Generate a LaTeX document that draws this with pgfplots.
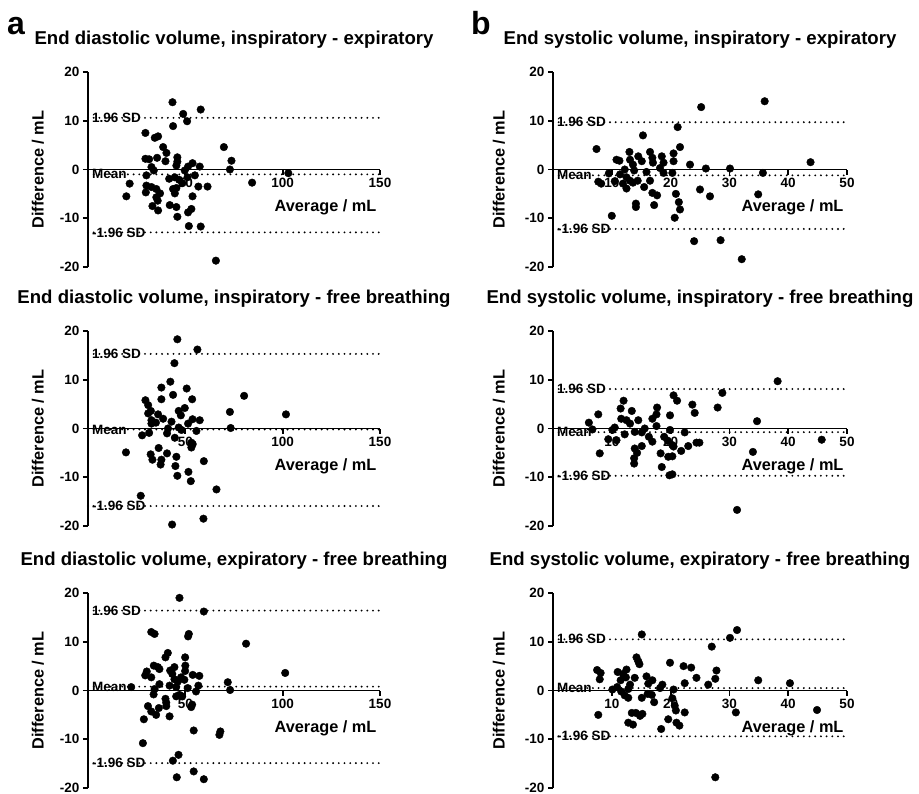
\documentclass[border=0pt]{standalone}
\usepackage{pgfplots}
\pgfplotsset{compat=1.18}
\usepackage{fontspec}
\setmainfont{Liberation Sans}
\pgfplotsset{
  ba/.style={
    scale only axis, height=195pt,
    ymin=-20, ymax=20, xmin=0,
    axis x line=middle, axis y line=left,
    axis line style={-, line width=1.8pt, black},
    ytick={-20,-10,0,10,20},
    tick align=outside,
    tick style={line width=1.8pt, black},
    major tick length=5pt,
    ticklabel style={font=\fontsize{13.5}{13.5}\selectfont\bfseries},
    /pgf/number format/assume math mode=true,
    xlabel={Average / mL}, ylabel={Difference / mL},
    x label style={at={(rel axis cs:1,0.305)}, anchor=east, font=\fontsize{16.3}{16.3}\selectfont\bfseries},
    title style={at={(rel axis cs:0.5,1)}, anchor=base, yshift=22pt, font=\fontsize{18.6}{18.6}\selectfont\bfseries},
    clip=false,
  },
  baL/.style={ba, width=292pt, xmax=150, xtick={50,100,150},
    y label style={at={([xshift=-50pt]rel axis cs:0,0.5)}, anchor=center, font=\fontsize{16.3}{16.3}\selectfont\bfseries}},
  baR/.style={ba, width=294pt, xmax=50, xtick={10,20,30,40,50},
    y label style={at={([xshift=-54pt]rel axis cs:0,0.5)}, anchor=center, font=\fontsize{16.3}{16.3}\selectfont\bfseries}},
  pts/.style={only marks, mark=*, mark size=3.8pt, black, mark options={draw=black, fill=black}},
  lim/.style={no marks, black, line width=2.1pt, line cap=round, dash pattern=on 0pt off 5.7pt},
}
\tikzset{limlab/.style={anchor=west, xshift=4pt, font=\fontsize{13.5}{13.5}\selectfont\bfseries, inner sep=0pt}}
\begin{document}
\begin{tikzpicture}
\useasboundingbox (0,0) rectangle (919pt,-794pt);
\node[anchor=base west, font=\fontsize{32}{32}\selectfont\bfseries, inner sep=0pt] at (7pt,-35pt) {a};
\node[anchor=base west, font=\fontsize{32}{32}\selectfont\bfseries, inner sep=0pt] at (471pt,-35pt) {b};

% Panel 1: EDV insp - exp
\begin{axis}[baL, at={(88pt,-267pt)}, anchor=south west, title={End diastolic volume, inspiratory - expiratory}]
\addplot[lim] coordinates {(0,10.6) (150,10.6)};
\addplot[lim] coordinates {(0,-1.0) (150,-1.0)};
\addplot[lim] coordinates {(0,-12.9) (150,-12.9)};
\node[limlab] at (axis cs:0,10.6) {1.96 SD};
\node[limlab] at (axis cs:0,-1.0) {Mean};
\node[limlab] at (axis cs:0,-12.9) {-1.96 SD};
\addplot[pts] coordinates {
(43.4,13.8) (57.9,12.3) (48.9,11.4) (50.9,9.9) (43.7,8.9) (29.5,7.5) (34.3,6.5) (36.0,6.8)
(69.8,4.6) (38.6,4.6) (40.3,3.4) (73.7,1.8) (29.5,2.2) (31.4,2.1) (35.5,2.4) (39.8,1.7)
(45.9,2.5) (45.9,1.6) (53.7,1.3) (57.4,0.6) (72.9,0.0) (32.6,0.5) (33.8,-0.2) (30.0,-1.2)
(45.4,0.8) (51.4,0.6) (49.7,-0.2) (54.9,-1.2) (41.7,-1.9) (44.6,-1.6) (46.8,-2.1) (48.5,-2.8)
(102.9,-0.75) (84.3,-2.7) (21.4,-2.9) (56.7,-3.5) (61.4,-3.5) (32.6,-3.6) (35.1,-4.0) (43.7,-4.0)
(45.4,-3.8) (29.7,-4.7) (37.0,-4.9) (44.6,-4.9) (19.7,-5.5) (53.7,-5.5) (35.1,-5.7) (35.8,-6.4)
(33.1,-7.5) (36.0,-8.4) (42.0,-7.3) (45.4,-7.7) (53.1,-8.1) (51.4,-8.8) (45.9,-9.7) (51.8,-11.6)
(57.9,-11.7) (65.7,-18.7) (51.1,-1.6) (30.0,-3.3)
};
\end{axis}

% Panel 2: ESV insp - exp
\begin{axis}[baR, at={(553pt,-267pt)}, anchor=south west, title={End systolic volume, inspiratory - expiratory}]
\addplot[lim] coordinates {(0,9.7) (50,9.7)};
\addplot[lim] coordinates {(0,-1.2) (50,-1.2)};
\addplot[lim] coordinates {(0,-12.2) (50,-12.2)};
\node[limlab] at (axis cs:0,9.7) {1.96 SD};
\node[limlab] at (axis cs:0,-1.2) {Mean};
\node[limlab] at (axis cs:0,-12.2) {-1.96 SD};
\addplot[pts] coordinates {
(36.0,14.0) (25.2,12.8) (21.2,8.7) (15.3,7.0) (7.4,4.2) (21.6,4.6) (13.0,3.6) (16.5,3.6)
(14.5,2.7) (20.5,3.3) (16.9,2.4) (18.5,2.7) (10.8,2.0) (11.3,1.8) (13.1,2.0) (15.1,1.7)
(20.5,1.7) (23.3,1.0) (43.8,1.5) (17.0,1.4) (18.8,1.4) (13.6,1.0) (26.0,0.2) (30.1,0.2)
(12.2,0.0) (13.8,-0.2) (15.9,-0.5) (18.8,-0.7) (20.3,-0.7) (35.7,-0.7) (9.5,-0.8) (11.4,-1.0)
(12.5,-1.6) (7.7,-2.5) (8.2,-2.9) (10.5,-2.4) (13.1,-2.3) (14.4,-2.3) (16.5,-2.3) (11.9,-2.9)
(13.6,-2.7) (15.5,-3.6) (12.5,-3.9) (25.0,-4.1) (16.9,-4.8) (17.7,-5.3) (20.9,-5.0) (26.7,-5.5)
(34.9,-5.1) (14.1,-7.0) (14.1,-7.7) (17.2,-7.3) (21.4,-6.7) (21.6,-8.2) (20.7,-9.9) (10.0,-9.5)
(24.0,-14.7) (28.5,-14.5) (32.1,-18.4) (18.2,0.3)
};
\end{axis}

% Panel 3: EDV insp - free
\begin{axis}[baL, at={(88pt,-526pt)}, anchor=south west, title={End diastolic volume, inspiratory - free breathing}]
\addplot[lim] coordinates {(0,15.3) (150,15.3)};
\addplot[lim] coordinates {(0,-0.2) (150,-0.2)};
\addplot[lim] coordinates {(0,-15.9) (150,-15.9)};
\node[limlab] at (axis cs:0,15.3) {1.96 SD};
\node[limlab] at (axis cs:0,-0.2) {Mean};
\node[limlab] at (axis cs:0,-15.9) {-1.96 SD};
\addplot[pts] coordinates {
(45.9,18.3) (56.2,16.2) (44.4,13.4) (42.3,9.6) (37.7,8.4) (50.7,8.2) (80.2,6.7) (43.7,6.9)
(29.5,5.8) (37.7,6.0) (53.5,6.0) (30.9,4.8) (49.7,4.2) (46.6,3.6) (72.9,3.4) (32.3,3.6)
(30.9,3.1) (36.0,2.9) (47.7,2.7) (101.7,2.9) (38.6,2.0) (53.7,1.9) (57.4,1.7) (32.6,1.7)
(34.9,1.2) (42.9,1.4) (51.4,1.0) (73.3,0.1) (41.1,0.0) (46.6,0.2) (55.7,-0.5) (31.4,-0.9)
(40.6,-1.0) (27.8,-1.4) (44.6,-1.9) (53.1,-2.9) (53.1,-3.9) (36.3,-4.0) (19.5,-4.9) (32.2,-5.3)
(40.6,-5.1) (45.4,-5.8) (33.1,-6.4) (37.7,-6.4) (59.5,-6.7) (37.3,-7.4) (44.9,-7.7) (45.9,-9.7)
(51.6,-8.9) (52.8,-10.8) (66.0,-12.5) (27.1,-13.8) (43.2,-19.7) (59.3,-18.5) (53.8,-3.2) (48.0,-0.3)
(32.6,1.0)
};
\end{axis}

% Panel 4: ESV insp - free
\begin{axis}[baR, at={(553pt,-526pt)}, anchor=south west, title={End systolic volume, inspiratory - free breathing}]
\addplot[lim] coordinates {(0,8.1) (50,8.1)};
\addplot[lim] coordinates {(0,-0.75) (50,-0.75)};
\addplot[lim] coordinates {(0,-9.7) (50,-9.7)};
\node[limlab] at (axis cs:0,8.1) {1.96 SD};
\node[limlab] at (axis cs:0,-0.75) {Mean};
\node[limlab] at (axis cs:0,-9.7) {-1.96 SD};
\addplot[pts] coordinates {
(38.2,9.7) (28.8,7.3) (20.5,6.8) (21.1,5.7) (12.0,5.7) (23.7,4.9) (28.0,4.3) (17.7,4.3)
(11.5,4.1) (13.4,3.6) (24.1,3.2) (17.6,2.9) (7.7,2.9) (19.9,2.7) (16.9,2.0) (11.6,2.0)
(12.5,1.7) (14.5,1.7) (34.7,1.5) (6.1,1.2) (13.1,1.0) (17.6,0.5) (10.5,0.2) (15.6,0.0)
(6.7,-0.2) (19.9,-0.3) (10.1,-0.3) (13.9,-0.7) (15.1,-0.8) (22.4,-0.8) (12.2,-1.2) (18.9,-1.7)
(16.3,-1.7) (9.4,-2.2) (10.8,-2.4) (45.7,-2.3) (16.9,-2.7) (19.5,-2.5) (24.4,-2.9) (24.9,-2.9)
(13.9,-4.1) (15.1,-3.6) (20.3,-3.4) (23.0,-3.6) (21.8,-4.6) (34.0,-4.8) (7.95,-5.1) (14.3,-5.0)
(18.3,-5.1) (20.3,-5.7) (19.6,-5.8) (13.8,-6.1) (13.8,-7.2) (18.5,-7.9) (19.8,-9.6) (20.3,-9.4)
(31.3,-16.7) (20.5,-3.7)
};
\end{axis}

% Panel 5: EDV exp - free
\begin{axis}[baL, at={(88pt,-788pt)}, anchor=south west, title={End diastolic volume, expiratory - free breathing}]
\addplot[lim] coordinates {(0,16.4) (150,16.4)};
\addplot[lim] coordinates {(0,0.8) (150,0.8)};
\addplot[lim] coordinates {(0,-14.9) (150,-14.9)};
\node[limlab] at (axis cs:0,16.4) {1.96 SD};
\node[limlab] at (axis cs:0,0.8) {Mean};
\node[limlab] at (axis cs:0,-14.9) {-1.96 SD};
\addplot[pts] coordinates {
(47.0,19.0) (59.5,16.2) (32.5,12.0) (34.2,11.6) (51.8,11.6) (51.4,11.1) (81.2,9.6) (41.0,7.7)
(39.8,6.8) (49.9,6.8) (33.8,5.1) (35.9,4.8) (44.4,4.8) (50.0,5.1) (30.2,3.9) (36.7,4.4)
(42.2,4.1) (49.9,4.0) (101.3,3.6) (29.4,3.1) (32.5,2.7) (43.3,3.4) (53.8,3.2) (57.2,3.0)
(44.4,2.3) (47.8,2.7) (49.5,2.2) (71.8,1.7) (46.1,1.8) (36.7,1.3) (41.9,1.0) (56.7,1.0)
(22.2,0.7) (45.3,0.7) (51.2,0.5) (34.2,0.3) (73.0,0.1) (55.5,-0.2) (47.0,-0.9) (33.7,-0.8)
(48.4,-1.2) (45.3,-1.2) (39.8,-1.7) (40.2,-2.5) (30.8,-3.2) (36.4,-3.6) (40.2,-3.2) (53.5,-2.9)
(32.5,-4.3) (35.0,-5.0) (41.9,-5.3) (28.7,-5.9) (54.3,-8.2) (68.0,-8.4) (67.5,-9.1) (28.2,-10.8)
(46.5,-13.2) (43.6,-14.4) (45.6,-17.8) (54.3,-16.6) (59.5,-18.2) (53.0,-3.4)
};
\end{axis}

% Panel 6: ESV exp - free
\begin{axis}[baR, at={(553pt,-788pt)}, anchor=south west, title={End systolic volume, expiratory - free breathing}]
\addplot[lim] coordinates {(0,10.5) (50,10.5)};
\addplot[lim] coordinates {(0,0.5) (50,0.5)};
\addplot[lim] coordinates {(0,-9.4) (50,-9.4)};
\node[limlab] at (axis cs:0,10.5) {1.96 SD};
\node[limlab] at (axis cs:0,0.5) {Mean};
\node[limlab] at (axis cs:0,-9.4) {-1.96 SD};
\addplot[pts] coordinates {
(15.1,11.5) (31.3,12.4) (30.1,10.8) (27.0,9.0) (14.2,6.8) (14.5,6.0) (14.7,5.4) (19.9,5.7)
(22.2,5.0) (23.5,4.7) (27.8,4.1) (7.5,4.2) (8.1,3.6) (11.0,3.8) (12.5,4.3) (11.9,3.4)
(24.4,2.6) (12.4,2.7) (13.9,2.6) (15.9,2.9) (7.95,2.3) (27.6,2.4) (34.9,2.1) (16.9,2.1)
(11.5,2.1) (22.4,1.5) (40.3,1.5) (26.4,1.2) (13.1,1.2) (16.2,1.4) (18.6,1.2) (10.9,0.7)
(18.2,0.5) (20.5,0.2) (12.8,0.3) (11.6,-0.2) (16.1,-0.7) (12.2,-1.0) (15.1,-1.5) (16.8,-0.9)
(20.3,-1.6) (12.8,-1.5) (17.2,-2.4) (20.7,-3.1) (20.9,-4.1) (22.4,-4.5) (31.1,-4.5) (44.9,-4.0)
(7.7,-5.0) (13.4,-4.6) (14.1,-4.6) (15.2,-4.8) (14.8,-5.2) (12.8,-6.6) (13.6,-7.0) (19.6,-5.9)
(21.0,-6.6) (21.5,-7.2) (18.4,-7.9) (27.6,-17.8) (10.1,0.2)
};
\end{axis}
\end{tikzpicture}
\end{document}
